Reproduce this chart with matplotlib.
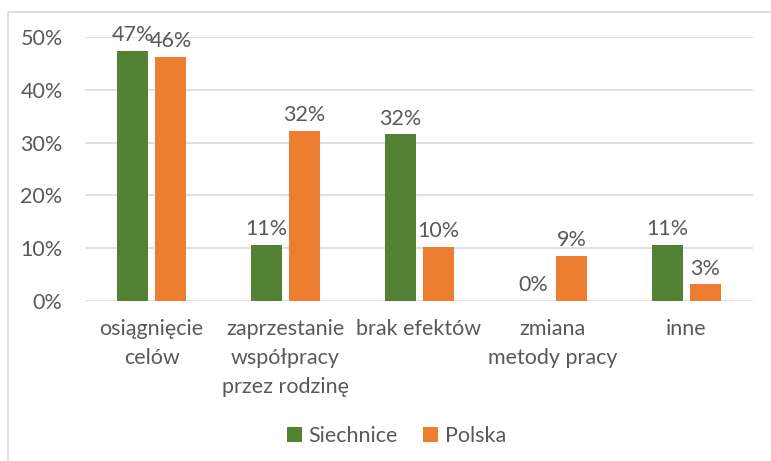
import matplotlib.pyplot as plt
import matplotlib.patches as patches
import numpy as np

categories = ["osiągnięcie\ncelów", "zaprzestanie\nwspółpracy\nprzez rodzinę",
              "brak efektów", "zmiana\nmetody pracy", "inne"]
siechnice = [47.4, 10.6, 31.6, 0.0, 10.6]
polska = [46.2, 32.2, 10.3, 8.6, 3.2]
series_names = ["Siechnice", "Polska"]

green = "#548235"
orange = "#ED7D31"
textc = "#595959"
gridc = "#D9D9D9"

plt.rcParams['font.family'] = ['Lato', 'DejaVu Sans']
fs = 15.5

fig = plt.figure(figsize=(7.71, 4.61), dpi=100)
ax = fig.add_axes([0.110, 0.347, 0.867, 0.573])

x = np.arange(len(categories))
w = 0.232
off = 0.142
b1 = ax.bar(x - off, siechnice, w, color=green, label=series_names[0], zorder=3)
b2 = ax.bar(x + off, polska, w, color=orange, label=series_names[1], zorder=3)

for bars, vals in ((b1, siechnice), (b2, polska)):
	for r, v in zip(bars, vals):
		ax.annotate("%.0f%%" % v, (r.get_x() + r.get_width() / 2, v),
			xytext=(0, 4), textcoords="offset points", ha="center", va="bottom",
			fontsize=fs, color=textc)

ax.set_xlim(-0.5, len(categories) - 0.5)
ax.set_ylim(0, 50)
ax.set_yticks([0, 10, 20, 30, 40, 50])
ax.set_yticklabels(["%d%%" % t for t in [0, 10, 20, 30, 40, 50]])
ax.set_xticks(x)
ax.set_xticklabels(categories, linespacing=1.55)
ax.tick_params(axis="both", length=0, labelsize=fs, labelcolor=textc)
ax.tick_params(axis="y", pad=16)
ax.tick_params(axis="x", pad=13)
ax.yaxis.grid(True, color=gridc, lw=1.2, zorder=0)
for s in ax.spines.values():
	s.set_visible(False)

fig.legend(handles=[b1, b2], loc="center", bbox_to_anchor=(0.514, 0.055), ncol=2,
	frameon=False, fontsize=fs, labelcolor=textc, handlelength=0.7, handleheight=0.7,
	handletextpad=0.3, columnspacing=1.2)

fig.patches.append(patches.Rectangle((8 / 771, -0.1), 1.2, 1.1 - 12 / 461,
	transform=fig.transFigure, fill=False, edgecolor=gridc, lw=1.2))

fig.savefig("out.png", dpi=100)
